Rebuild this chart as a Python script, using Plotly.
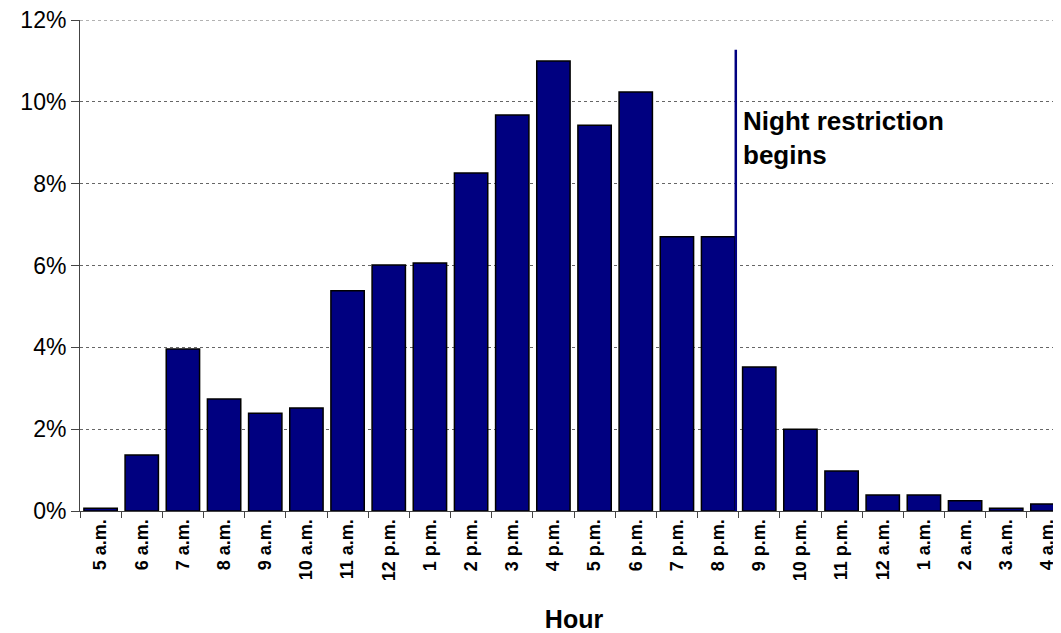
import plotly.graph_objects as go

hours = ["5 a.m.", "6 a.m.", "7 a.m.", "8 a.m.", "9 a.m.", "10 a.m.", "11 a.m.", "12 p.m.",
         "1 p.m.", "2 p.m.", "3 p.m.", "4 p.m.", "5 p.m.", "6 p.m.", "7 p.m.", "8 p.m.",
         "9 p.m.", "10 p.m.", "11 p.m.", "12 a.m.", "1 a.m.", "2 a.m.", "3 a.m.", "4 a.m."]
share_pct = [0.07, 1.37, 3.96, 2.74, 2.39, 2.52, 5.38, 6.01,
             6.06, 8.26, 9.68, 11.0, 9.43, 10.24, 6.70, 6.70,
             3.52, 2.00, 0.98, 0.39, 0.39, 0.25, 0.07, 0.17]
y_ticks = [0, 2, 4, 6, 8, 10, 12]
y_tick_labels = ["0%", "2%", "4%", "6%", "8%", "10%", "12%"]
y_max = 12
restriction_pos = 15.43   # between "8 p.m." and "9 p.m."
restriction_top = 11.27
annotation_text = "Night restriction<br>begins"

fig = go.Figure()
fig.add_trace(go.Bar(
    x=hours, y=share_pct,
    marker=dict(color="#000080", line=dict(color="#000000", width=1.5)),
))

# top gridline (plotly omits gridlines on the plot edge)
fig.add_shape(type="line", xref="paper", yref="y", x0=0, x1=1, y0=y_max, y1=y_max,
              line=dict(color="#666666", width=1, dash="3px,3px"), layer="below")

fig.add_shape(type="line", xref="x", yref="y",
              x0=restriction_pos, x1=restriction_pos, y0=0, y1=restriction_top,
              line=dict(color="#000080", width=2.5))
fig.add_annotation(x=restriction_pos, y=9.95, xref="x", yref="y",
                   text=annotation_text, showarrow=False,
                   xanchor="left", yanchor="top", align="left", xshift=5,
                   font=dict(family="Liberation Sans, Arial", size=26, color="#000000", weight="bold"))

fig.update_layout(
    width=1061, height=625,
    margin=dict(l=72, r=1, t=12, b=122),
    plot_bgcolor="white", paper_bgcolor="white",
    showlegend=False, bargap=0.19,
    font=dict(family="Liberation Sans, Arial", color="#000000"),
)
fig.update_xaxes(
    type="category", tickangle=-90,
    tickfont=dict(size=18, weight="bold"),
    ticks="outside", tickson="boundaries", ticklen=6, tickcolor="#444444",
    showline=True, linecolor="#444444", linewidth=1,
    title=dict(text="Hour", font=dict(size=25, weight="bold"), standoff=30),
    automargin=False, ticklabeloverflow="allow",
)
fig.update_yaxes(
    range=[0, y_max], tickmode="array", tickvals=y_ticks, ticktext=y_tick_labels,
    tickfont=dict(size=23),
    ticks="outside", ticklen=8, tickcolor="#444444",
    showline=True, linecolor="#444444", linewidth=1,
    showgrid=True, gridcolor="#666666", griddash="3px,3px", gridwidth=1,
    zeroline=False, automargin=False, ticklabeloverflow="allow",
)

fig.write_html("out.html")
